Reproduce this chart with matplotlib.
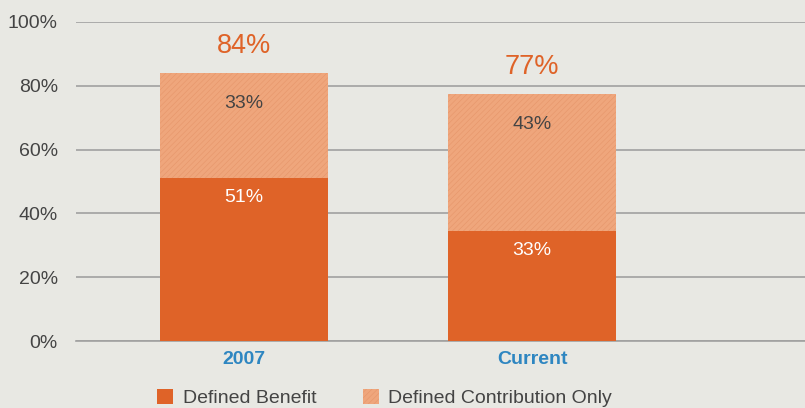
import matplotlib.pyplot as plt

plt.rcParams['font.family'] = ['Liberation Sans', 'DejaVu Sans']
plt.rcParams['hatch.linewidth'] = 0.4
plt.rcParams['hatch.color'] = '#E6956A'

categories = ['2007', 'Current']
defined_benefit = [51, 34.4]
defined_contribution = [33, 43]
db_labels = ['51%', '33%']
dc_labels = ['33%', '43%']
total_labels = ['84%', '77%']

BG = '#E8E8E3'
DB_COLOR = '#DF6328'
DC_COLOR = '#EFA67C'

fig = plt.figure(figsize=(8.05, 4.08), dpi=100, facecolor=BG)
ax = fig.add_axes([76 / 805, 67 / 408, 1 - 76 / 805, (341 - 22) / 408])
ax.set_facecolor(BG)

x = range(len(categories))
w = 168 / 288
ax.bar(x, defined_benefit, width=w, color=DB_COLOR, label='Defined Benefit', zorder=3)
ax.bar(x, defined_contribution, width=w, bottom=defined_benefit, color=DC_COLOR,
       hatch='//////', edgecolor='#E6956A', linewidth=0, label='Defined Contribution Only', zorder=3)

for i in x:
    db = defined_benefit[i]
    dc = defined_contribution[i]
    ax.text(i, db - 6, db_labels[i], ha='center', va='center', color='white', fontsize=14, zorder=4)
    ax.text(i, db + dc - 9.5, dc_labels[i], ha='center', va='center', color='#444444', fontsize=14, zorder=4)
    ax.text(i, db + dc + 8.5, total_labels[i], ha='center', va='center', color=DB_COLOR, fontsize=19.5, zorder=4)

ax.set_xlim(-168 / 288, (805 - 244) / 288)
ax.set_ylim(0, 100)
ax.set_yticks(range(0, 101, 20))
ax.set_yticklabels([f'{v}%' for v in range(0, 101, 20)], color='#444444', fontsize=14)
ax.yaxis.grid(True, color='#A0A0A0', linewidth=1.2, zorder=0)
ax.tick_params(axis='y', length=0, pad=13)
ax.tick_params(axis='x', length=0, pad=7)
ax.set_xticks(list(x))
ax.set_xticklabels(categories, color='#2E86C1', fontsize=14, fontweight='bold')
for s in ['top', 'right', 'left']:
    ax.spines[s].set_visible(False)
ax.spines['bottom'].set_color('#A0A0A0')
ax.spines['bottom'].set_linewidth(1.2)

leg = fig.legend(loc='center', bbox_to_anchor=(0.478, 10 / 408), ncol=2, frameon=False,
                 fontsize=14, handlelength=0.8, handleheight=0.8, columnspacing=2.4, handletextpad=0.5)
for t in leg.get_texts():
    t.set_color('#444444')

fig.savefig('out.png', dpi=100, facecolor=BG)
